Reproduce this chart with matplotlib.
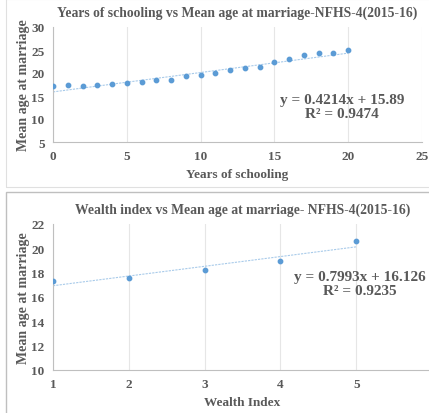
import matplotlib
matplotlib.use("Agg")
import matplotlib.pyplot as plt
from matplotlib.patches import Rectangle
import numpy as np

# Years of schooling vs mean age at marriage
years = np.arange(0, 21)
age_by_years = [17.1, 17.4, 17.2, 17.5, 17.7, 17.8, 18.1, 18.4, 18.5, 19.3, 19.5,
                20.0, 20.6, 21.1, 21.3, 22.4, 23.1, 23.9, 24.3, 24.4, 25.1]
fit_years = (0.4214, 15.89)
years_ticks = [0, 5, 10, 15, 20, 25]
age_ticks_top = [5, 10, 15, 20, 25, 30]

# Wealth index vs mean age at marriage
wealth = [1, 2, 3, 4, 5]
age_by_wealth = [17.3, 17.6, 18.2, 19.0, 20.6]
fit_wealth = (0.7993, 16.126)
wealth_ticks = [1, 2, 3, 4, 5]
age_ticks_bottom = [10, 12, 14, 16, 18, 20, 22]

W, H = 429, 414
TEXT = "#595959"
BLUE = "#5B9BD5"
TREND = "#A9CBEA"
plt.rcParams["font.family"] = ["Liberation Serif", "DejaVu Serif"]
plt.rcParams["font.weight"] = "bold"

fig = plt.figure(figsize=(W / 100, H / 100), dpi=100)


def px_axes(x0, y0, x1, y1):
    return fig.add_axes([x0 / W, 1 - y1 / H, (x1 - x0) / W, (y1 - y0) / H])


# chart frames
fig.patches.append(Rectangle((6 / W, 1 - 188 / H), 1, 188 / H, transform=fig.transFigure,
                             fill=False, edgecolor="#E0E0E0", lw=0.8))
fig.patches.append(Rectangle((6 / W, -0.1), 1, 1 - 193 / H + 0.1, transform=fig.transFigure,
                             fill=False, edgecolor="#BFBFBF", lw=1.0))


def style(ax, xticks, yticks):
    ax.set_xticks(xticks)
    ax.set_yticks(yticks)
    ax.grid(axis="x", color="#E6E6E6", lw=0.8)
    ax.set_axisbelow(True)
    for side in ["top", "right"]:
        ax.spines[side].set_visible(False)
    for side in ["left", "bottom"]:
        ax.spines[side].set_color("#BFBFBF")
    ax.tick_params(length=0, labelsize=9.5, colors=TEXT, pad=6)
    for lab in ax.get_xticklabels() + ax.get_yticklabels():
        lab.set_fontweight("bold")


# top chart
ax1 = px_axes(53, 28, 422, 143)
ax1.set_xlim(0, 25)
ax1.set_ylim(5, 30)
style(ax1, years_ticks, age_ticks_top)
xs = np.array([years[0], years[-1]])
ax1.plot(xs, fit_years[0] * xs + fit_years[1], color=TREND, lw=0.8, ls=(0, (2, 1)))
ax1.scatter(years, age_by_years, s=10, color=BLUE, zorder=3)
ax1.set_xlabel("Years of schooling", fontsize=9.5, color=TEXT, fontweight="bold", labelpad=4)
ax1.set_ylabel("Mean age at marriage", fontsize=10, color=TEXT, fontweight="bold", labelpad=1)
ax1.set_title("Years of schooling vs Mean age at marriage-NFHS-4(2015-16)",
              fontsize=9.8, color=TEXT, fontweight="bold", pad=8)
ax1.text(19.6, 12.7, "y = 0.4214x + 15.89\nR² = 0.9474", ha="center", va="center",
         fontsize=11, color=TEXT, fontweight="bold", linespacing=1.05)

# bottom chart
ax2 = px_axes(53, 225, 432, 371)
ax2.set_xlim(1, 6)
ax2.set_ylim(10, 22)
style(ax2, wealth_ticks, age_ticks_bottom)
wx = np.array([wealth[0], wealth[-1]])
ax2.plot(wx, fit_wealth[0] * wx + fit_wealth[1], color=TREND, lw=0.8, ls=(0, (2, 1)))
ax2.scatter(wealth, age_by_wealth, s=10, color=BLUE, zorder=3)
ax2.set_xlabel("Wealth Index", fontsize=9.5, color=TEXT, fontweight="bold", labelpad=4)
ax2.set_ylabel("Mean age at marriage", fontsize=10, color=TEXT, fontweight="bold", labelpad=1)
ax2.set_title("Wealth index vs Mean age at marriage- NFHS-4(2015-16)",
              fontsize=9.8, color=TEXT, fontweight="bold", pad=8)
ax2.text(5.05, 17.1, "y = 0.7993x + 16.126\nR² = 0.9235", ha="center", va="center",
         fontsize=11, color=TEXT, fontweight="bold", linespacing=1.05)

fig.savefig("out.png", dpi=100)
